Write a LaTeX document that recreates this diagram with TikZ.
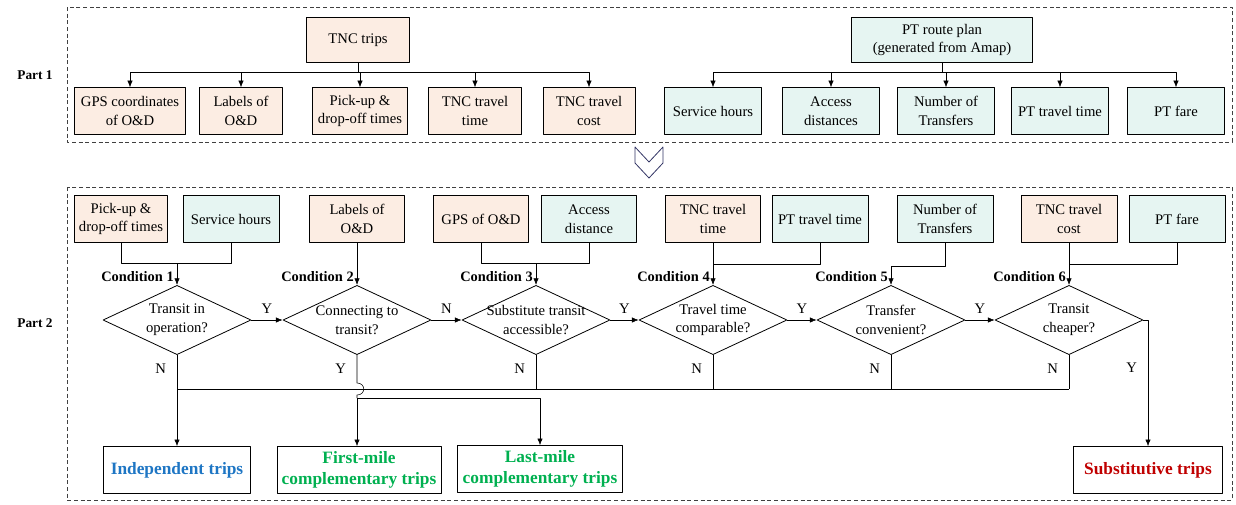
\documentclass[tikz,border=0pt]{standalone}
\usepackage{fontspec}
\setmainfont{Liberation Serif}
\usetikzlibrary{shapes.geometric,arrows.meta}
\definecolor{tncfill}{RGB}{252,237,227}
\definecolor{ptfill}{RGB}{230,245,242}
\definecolor{indblue}{RGB}{30,118,196}
\definecolor{compgreen}{RGB}{0,176,80}
\definecolor{subred}{RGB}{192,0,0}
\definecolor{chevnavy}{RGB}{50,52,100}
\begin{document}
\begin{tikzpicture}[x=0.75pt,y=-0.75pt,line join=round,>={Latex[length=5pt,width=4pt]},
	every node/.style={font=\fontsize{11}{14}\selectfont},
	box/.style={draw,line width=0.6pt,align=center,minimum height=35pt,inner sep=1pt},
	tncbox/.style={box,fill=tncfill},
	ptbox/.style={box,fill=ptfill},
	dia/.style={draw,diamond,aspect=2.1,line width=0.6pt,minimum width=111pt,minimum height=52pt,inner sep=-4pt,align=center},
	cond/.style={inner sep=0pt,font=\fontsize{10.8}{13}\selectfont\bfseries},
	res/.style={draw,line width=0.75pt,align=center,minimum height=35pt,font=\fontsize{13}{16}\selectfont\bfseries},
	yn/.style={inner sep=2pt},
	partbox/.style={dash pattern=on 3pt off 2pt,black!75,line width=0.6pt}]
	\useasboundingbox (0,0) rectangle (1236,504);
	\draw[partbox] (67,7) rectangle (1232,142);
	\draw[partbox] (67,187) rectangle (1232,500);
	\node[cond, font=\fontsize{10}{12}\selectfont\bfseries] (part1) at (35,75) {Part 1};
	\node[cond, font=\fontsize{10}{12}\selectfont\bfseries] (part2) at (35,323) {Part 2};
	% Part 1
	\node[tncbox, minimum width=77pt, minimum height=34pt] (tnc) at (358,40) {TNC trips};
	\node[tncbox, minimum width=83pt] (a1) at (130,111) {GPS coordinates\\of O\&D};
	\node[tncbox, minimum width=62pt] (a2) at (241,111) {Labels of\\O\&D};
	\node[tncbox, minimum width=71pt] (a3) at (360,111) {Pick-up \&\\drop-off times};
	\node[tncbox, minimum width=70pt] (a4) at (475,111) {TNC travel\\time};
	\node[tncbox, minimum width=69pt] (a5) at (589,111) {TNC travel\\cost};
	\node[ptbox, minimum width=136pt, minimum height=34pt] (ptp) at (942,40) {PT route plan\\(generated from Amap)};
	\node[ptbox, minimum width=73pt] (b1) at (713,111) {Service hours};
	\node[ptbox, minimum width=73pt] (b2) at (831,111) {Access\\distances};
	\node[ptbox, minimum width=73pt] (b3) at (946,111) {Number of\\Transfers};
	\node[ptbox, minimum width=73pt] (b4) at (1060,111) {PT travel time};
	\node[ptbox, minimum width=73pt] (b5) at (1176,111) {PT fare};
	\coordinate (bus1) at (0,72);
	\foreach \n in {a1,a2,a3,a4,a5}
	\draw[->] (tnc.south) -- (tnc.south |- bus1) -| (\n.north);
	\foreach \n in {b1,b2,b3,b4,b5}
	\draw[->] (ptp.south) -- (ptp.south |- bus1) -| (\n.north);
	\draw[chevnavy, fill=white, line width=0.6pt] (635,147) -- (649,162) -- (663,147) -- (663,163) -- (649,178) -- (635,163) -- cycle;
	% Part 2
	\node[tncbox, minimum width=70pt] (i1) at (121,219) {Pick-up \&\\drop-off times};
	\node[ptbox, minimum width=72pt] (i2) at (231,219) {Service hours};
	\node[tncbox, minimum width=71pt] (i3) at (357,219) {Labels of\\O\&D};
	\node[tncbox, minimum width=71pt] (i4) at (481,219) {GPS of O\&D};
	\node[ptbox, minimum width=71pt] (i5) at (589,219) {Access\\distance};
	\node[tncbox, minimum width=71pt] (i6) at (713,219) {TNC travel\\time};
	\node[ptbox, minimum width=72pt] (i7) at (820,219) {PT travel time};
	\node[ptbox, minimum width=72pt] (i8) at (945,219) {Number of\\Transfers};
	\node[tncbox, minimum width=72pt] (i9) at (1069,219) {TNC travel\\cost};
	\node[ptbox, minimum width=72pt] (i10) at (1177,219) {PT fare};
	\node[dia] (c1) at (177,320) {Transit in\\operation?};
	\node[dia] (c2) at (357,320) {Connecting to\\transit?};
	\node[dia] (c3) at (536,320) {Substitute transit\\accessible?};
	\node[dia] (c4) at (713,320) {Travel time\\comparable?};
	\node[dia] (c5) at (891,320) {Transfer\\convenient?};
	\node[dia] (c6) at (1069,320) {Transit\\cheaper?};
	\foreach \i in {1,...,6}
	\node[cond, anchor=base east] (k\i) at ([shift={(-3,-3)}]c\i.north) {Condition \i};
	\coordinate (j1) at (177,263);
	\coordinate (j3) at (536,263);
	\draw (i1.south) |- (i2.south |- j1) -- (i2.south);
	\draw[->] (j1) -- (c1.north);
	\draw[->] (i3.south) -- (c2.north);
	\draw (i4.south) |- (i5.south |- j3) -- (i5.south);
	\draw[->] (j3) -- (c3.north);
	\draw[->] (i6.south) -- (c4.north);
	\draw (i7.south) |- (i6.south |- 0,264);
	\draw[->] (i8.south) |- (c5.north |- 0,266) -- (c5.north);
	\draw[->] (i9.south) -- (c6.north);
	\draw (i10.south) |- (i9.south |- 0,264);
	\draw[->] (c1.east) -- (c2.west) node[midway, above, yn, yshift=3pt] {Y};
	\draw[->] (c2.east) -- (c3.west) node[midway, above, yn, yshift=3pt] {N};
	\draw[->] (c3.east) -- (c4.west) node[midway, above, yn, yshift=3pt] {Y};
	\draw[->] (c4.east) -- (c5.west) node[midway, above, yn, yshift=3pt] {Y};
	\draw[->] (c5.east) -- (c6.west) node[midway, above, yn, yshift=3pt] {Y};
	% outcomes
	\node[res, text=indblue, minimum width=110pt] (ind) at (177,470) {Independent trips};
	\node[res, text=compgreen, minimum width=123pt] (fm) at (359,470) {First-mile\\complementary trips};
	\node[res, text=compgreen, minimum width=124pt] (lm) at (540,469) {Last-mile\\complementary trips};
	\node[res, text=subred, minimum width=112pt] (sub) at (1148,470) {Substitutive trips};
	\coordinate (bus2) at (0,389);
	\draw[->] (c1.south) -- (ind.north) node[yn, left=6pt, pos=0.15] {N};
	\draw (c1.south |- bus2) -- (c6.south |- bus2);
	\foreach \i in {3,4,5,6}
	\draw (c\i.south) -- (c\i.south |- bus2) node[yn, left=6pt, pos=0.4] {N};
	\coordinate (hopa) at (357,383);
	\coordinate (hopb) at (357,395);
	\coordinate (split) at (357,398);
	\draw (c2.south) -- (hopa) node[yn, left=6pt, pos=0.5] {Y} .. controls (366,383) and (366,395) .. (hopb) -- (split);
	\draw[->] (split) -- (split |- fm.north);
	\draw[->] (split) -| (lm.north);
	\draw[->] (c6.east) -| (sub.north) node[yn, left=6pt, pos=0.69] {Y};
\end{tikzpicture}
\end{document}
